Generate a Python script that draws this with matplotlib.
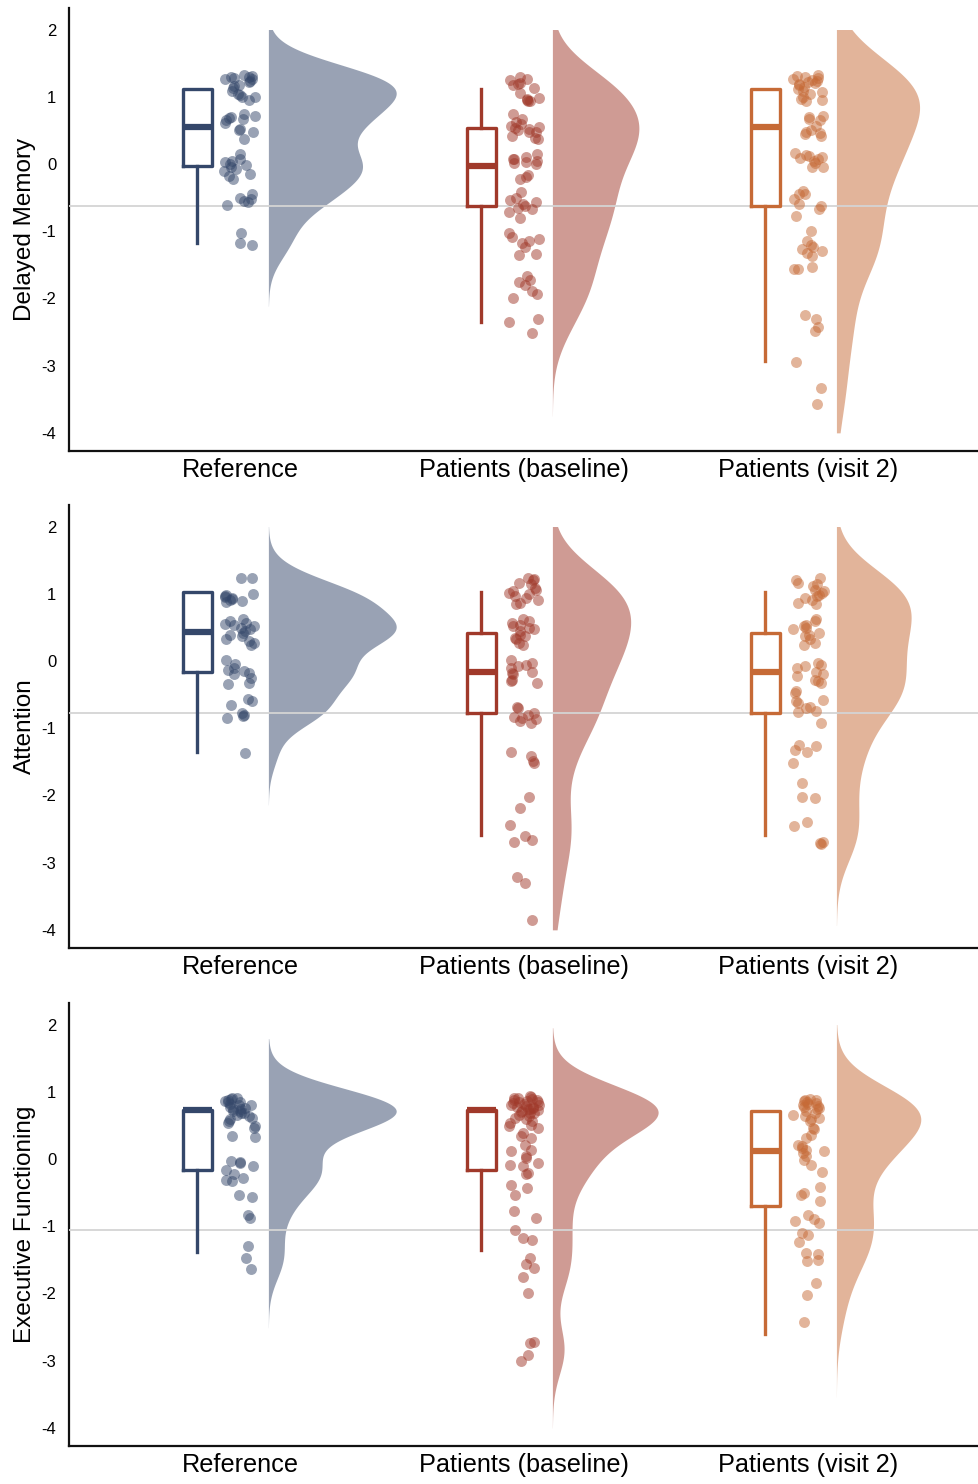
import numpy as np
import matplotlib
matplotlib.use("Agg")
import matplotlib.pyplot as plt

plt.rcParams['font.family'] = ['Liberation Sans', 'DejaVu Sans']

groups = ["Reference", "Patients (baseline)", "Patients (visit 2)"]
colors = ["#34476A", "#A0392A", "#C66A36"]
domains = ["Delayed Memory", "Attention", "Executive Functioning"]

# delayed memory scores
dm_ref = [1.32, 1.31, 1.30, 1.29, 1.28, 1.27, 1.26, 1.24, 1.22, 1.17, 1.16, 1.13, 1.09, 1.04, 1.02, 1.00, 0.99, 0.95,
          0.75, 0.72, 0.70, 0.69, 0.67, 0.65, 0.61, 0.52, 0.50, 0.47, 0.37,
          0.15, 0.08, 0.05, 0.03, 0.00, -0.02, -0.05, -0.07, -0.10, -0.15, -0.18, -0.22,
          -0.44, -0.50, -0.52, -0.55, -0.57, -0.61,
          -1.02, -1.18, -1.21]
dm_base = [1.30, 1.27, 1.25, 1.21, 1.19, 1.17, 1.13, 1.05, 0.98, 0.96, 0.95, 0.94, 0.94,
           0.75, 0.67, 0.62, 0.60, 0.57, 0.55, 0.54, 0.52, 0.50, 0.48, 0.47, 0.42, 0.39, 0.37,
           0.15, 0.10, 0.08, 0.07, 0.05, 0.03, 0.01, 0.0, -0.17, -0.20, -0.22,
           -0.42, -0.50, -0.54, -0.57, -0.60, -0.62, -0.65, -0.67, -0.72, -0.80,
           -1.02, -1.09, -1.12, -1.14, -1.17, -1.24, -1.34, -1.36,
           -1.66, -1.72, -1.76, -1.80, -1.89, -1.94, -1.99,
           -2.31, -2.35, -2.51]
dm_v2 = [1.33, 1.31, 1.30, 1.28, 1.27, 1.25, 1.24, 1.22, 1.20, 1.19, 1.17, 1.14, 1.12, 1.09, 1.07, 1.04, 0.99, 0.97, 0.95, 0.94,
         0.72, 0.70, 0.67, 0.66, 0.57, 0.50, 0.47, 0.46, 0.44, 0.42,
         0.17, 0.13, 0.12, 0.10, 0.09, 0.07, 0.05, 0.02, -0.05, -0.05,
         -0.40, -0.45, -0.45, -0.52, -0.60, -0.62, -0.67, -0.77,
         -0.99, -1.14, -1.20, -1.23, -1.27, -1.29, -1.32, -1.37,
         -1.54, -1.56, -1.57,
         -2.24, -2.31, -2.43, -2.48,
         -2.95, -3.33, -3.57]

# attention scores
at_ref = [1.24, 1.23,
          0.99, 0.98, 0.96, 0.95, 0.94, 0.92, 0.91, 0.89, 0.87,
          0.62, 0.59, 0.57, 0.55, 0.54, 0.52, 0.49, 0.47, 0.44, 0.42, 0.39, 0.37, 0.32, 0.29, 0.27, 0.24,
          0.02, -0.05, -0.10, -0.13, -0.15, -0.18, -0.20, -0.25, -0.33, -0.35,
          -0.57, -0.60, -0.65, -0.78, -0.80, -0.82, -0.85,
          -1.37]
at_base = [1.24, 1.22, 1.21, 1.16, 1.14, 1.09, 1.06, 1.04, 1.01, 0.99, 0.96, 0.94, 0.91, 0.86, 0.84,
           0.62, 0.60, 0.57, 0.54, 0.52, 0.49, 0.47, 0.44, 0.39, 0.37, 0.34, 0.32, 0.27, 0.24,
           0.02, -0.03, -0.06, -0.08, -0.10, -0.16, -0.18, -0.20, -0.28, -0.30, -0.33,
           -0.68, -0.70, -0.78, -0.80, -0.83, -0.85, -0.87, -0.90, -0.92,
           -1.35, -1.42, -1.49, -1.52,
           -2.02, -2.18,
           -2.44, -2.61, -2.66, -2.69,
           -3.21, -3.31,
           -3.85]
at_v2 = [1.23, 1.21, 1.16, 1.14, 1.12, 1.06, 1.04, 1.01, 0.98, 0.96, 0.94, 0.91, 0.86, 0.84,
         0.62, 0.59, 0.54, 0.52, 0.49, 0.47, 0.42, 0.39, 0.37, 0.32, 0.27, 0.24,
         -0.03, -0.06, -0.08, -0.10, -0.16, -0.20, -0.23, -0.28, -0.30, -0.33,
         -0.45, -0.48, -0.58, -0.60, -0.63, -0.68, -0.70, -0.75, -0.76,
         -0.92,
         -1.25, -1.27, -1.32, -1.35, -1.52,
         -1.82, -2.02, -2.04,
         -2.39, -2.46, -2.69, -2.71, -2.72]

# executive functioning scores
ef_ref = [0.91, 0.90, 0.89, 0.88, 0.86, 0.85, 0.84, 0.82, 0.81, 0.80, 0.78, 0.76, 0.75, 0.74, 0.72, 0.71, 0.69,
          0.68, 0.66, 0.64, 0.61, 0.59, 0.56, 0.54, 0.49, 0.46,
          0.34, 0.33,
          -0.03, -0.04, -0.06, -0.11, -0.16, -0.23, -0.28, -0.31, -0.33,
          -0.53, -0.56,
          -0.83, -0.88,
          -1.30, -1.47, -1.63]
ef_base = [0.93, 0.92, 0.91, 0.90, 0.89, 0.88, 0.87, 0.86, 0.85, 0.84, 0.83, 0.82, 0.81, 0.80, 0.79, 0.78, 0.77,
           0.76, 0.75, 0.74, 0.73, 0.71, 0.70, 0.69, 0.68, 0.66, 0.64, 0.61, 0.59, 0.56, 0.54, 0.51, 0.49, 0.46,
           0.39, 0.34, 0.31, 0.21,
           0.14, 0.12, 0.04, 0.02, -0.06, -0.09, -0.11,
           -0.21, -0.22,
           -0.38, -0.43, -0.53,
           -0.78, -0.88,
           -1.05, -1.18, -1.20,
           -1.47, -1.57, -1.62, -1.75,
           -2.00,
           -2.72, -2.74, -2.91, -3.01]
ef_v2 = [0.89, 0.88, 0.87, 0.86, 0.85, 0.83, 0.82, 0.81, 0.79, 0.78, 0.76, 0.74, 0.71, 0.69, 0.66, 0.64, 0.61, 0.59, 0.56,
         0.46, 0.44, 0.36, 0.31,
         0.21, 0.19, 0.16, 0.14, 0.12, 0.09, 0.04, -0.01, -0.09,
         -0.20,
         -0.41, -0.51, -0.53, -0.63,
         -0.83, -0.90, -0.93, -0.95,
         -1.10, -1.13,
         -1.23, -1.40, -1.42, -1.50, -1.52,
         -1.84, -2.02,
         -2.42]

# box stats as drawn: whislo, q1, median, q3, whishi
dm_box = [[-1.17, -0.03, 0.55, 1.12, 1.12],
          [-2.35, -0.62, -0.03, 0.54, 1.11],
          [-2.93, -0.62, 0.55, 1.12, 1.12]]
at_box = [[-1.36, -0.17, 0.43, 1.03, 1.03],
          [-2.59, -0.78, -0.17, 0.42, 1.02],
          [-2.59, -0.78, -0.17, 0.42, 1.02]]
ef_box = [[-1.38, -0.16, 0.735, 0.735, 0.735],
          [-1.35, -0.16, 0.735, 0.735, 0.735],
          [-2.60, -0.70, 0.125, 0.72, 0.72]]

ref_lines = [-0.62, -0.78, -1.05]

panels = [(dm_ref, dm_base, dm_v2), (at_ref, at_base, at_v2), (ef_ref, ef_base, ef_v2)]
boxes = [dm_box, at_box, ef_box]


def kde(vals):
    x = np.asarray(vals, dtype=float)
    n = len(x)
    q75, q25 = np.percentile(x, [75, 25])
    bw = 0.9 * min(x.std(ddof=1), (q75 - q25) / 1.34) * n ** -0.2
    lo = max(x.min() - 3 * bw, -4)
    hi = min(x.max() + 3 * bw, 2)
    grid = np.linspace(lo, hi, 600)
    d = np.exp(-0.5 * ((grid[:, None] - x[None, :]) / bw) ** 2).sum(1) / (n * bw * np.sqrt(2 * np.pi))
    return grid, d


fig = plt.figure(figsize=(9.79, 14.84), dpi=100)
tops = [8, 505, 1003]
rng = np.random.default_rng(7)

for p in range(3):
    top = tops[p]
    ax = fig.add_axes([69 / 979, 1 - (top + 443) / 1484, 910 / 979, 443 / 1484])
    dens = [kde(v) for v in panels[p]]
    dmax = max(d.max() for g, d in dens)

    ax.axhline(ref_lines[p], color="#d4d4d4", lw=1.3, zorder=3)

    for i in range(3):
        c = colors[i]
        g, d = dens[i]
        ax.fill_betweenx(g, i + 0.1, i + 0.1 + d / dmax * 0.45, color=c, alpha=0.5, lw=0, zorder=2)

        vals = np.asarray(panels[p][i])
        jit = rng.uniform(-0.055, 0.055, len(vals))
        ax.scatter(i + jit, vals, s=62, color=c, alpha=0.5, lw=0, zorder=4)

        wl, q1, med, q3, wh = boxes[p][i]
        st = [dict(whislo=wl, q1=q1, med=med, q3=q3, whishi=wh, fliers=[])]
        ax.bxp(st, positions=[i - 0.15], widths=0.1, showfliers=False, showcaps=False,
               boxprops=dict(color=c, lw=2.4), whiskerprops=dict(color=c, lw=2.4),
               medianprops=dict(color=c, lw=4.5, solid_capstyle="butt"), manage_ticks=False,
               zorder=4)

    ax.set_xlim(-0.602, 2.602)
    ax.set_ylim(-4.27, 2.32)
    ax.set_yticks(range(-4, 3))
    ax.set_yticklabels([str(t) for t in range(-4, 3)], fontsize=12)
    ax.set_xticks(range(3))
    ax.set_xticklabels(groups, fontsize=18.2)
    ax.tick_params(length=0)
    ax.tick_params(axis="y", pad=9)
    ax.tick_params(axis="x", pad=5)
    ax.set_ylabel(domains[p], fontsize=17.5, labelpad=4)
    for s in ["top", "right"]:
        ax.spines[s].set_visible(False)
    for s in ["left", "bottom"]:
        ax.spines[s].set_linewidth(1.6)
        ax.spines[s].set_color("#111111")

fig.savefig("out.png", dpi=100)
